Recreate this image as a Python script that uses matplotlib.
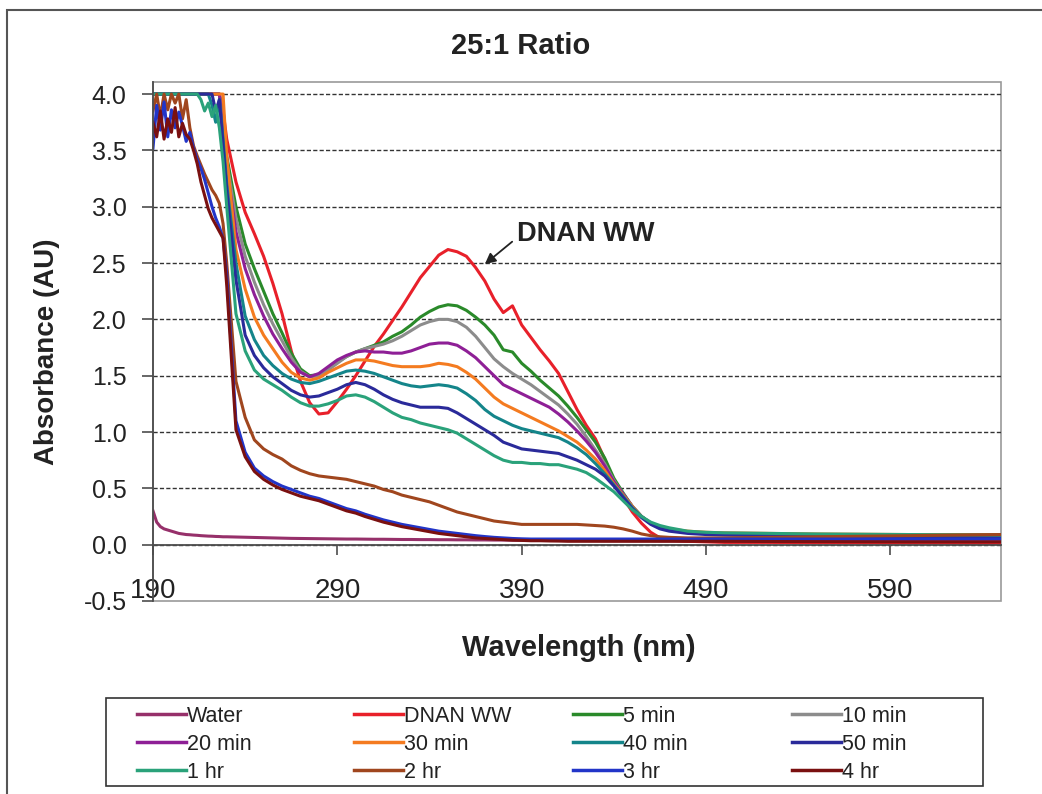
#** MÓDULOS NECESSÁRIOS **
import numpy as np
import matplotlib
matplotlib.use('Agg')
import matplotlib.pyplot as plt
from matplotlib.patches import Rectangle
from matplotlib.lines import Line2D

plt.rcParams['font.family'] = ['Liberation Sans', 'DejaVu Sans']

#** DADOS **
wavelength = [190, 192, 194, 196, 198, 200, 202, 204, 206, 208, 210, 212, 214, 216, 218, 220, 222, 224, 226, 228, 230,
              235, 240, 245, 250, 255, 260, 265, 270, 275, 280, 285, 290,
              295, 300, 305, 310, 315, 320, 325, 330, 335, 340, 345, 350,
              355, 360, 365, 370, 375, 380, 385, 390, 395, 400, 405, 410,
              415, 420, 425, 430, 435, 440, 445, 450, 455, 460, 465, 470,
              480, 490, 500, 525, 550, 600, 650]

water = [0.30, 0.20, 0.16, 0.14, 0.13, 0.12, 0.11, 0.10, 0.095, 0.09, 0.088, 0.085, 0.083, 0.08, 0.078, 0.076, 0.075, 0.073, 0.072, 0.07, 0.07,
         0.068, 0.066, 0.064, 0.062, 0.06, 0.058, 0.056, 0.055, 0.054, 0.053, 0.052, 0.051,
         0.05, 0.05, 0.049, 0.048, 0.048, 0.047, 0.046, 0.046, 0.045, 0.045, 0.044, 0.044,
         0.043, 0.043, 0.042, 0.042, 0.041, 0.041, 0.04, 0.04, 0.04, 0.039, 0.039, 0.038,
         0.038, 0.038, 0.037, 0.037, 0.036, 0.036, 0.036, 0.035, 0.035, 0.035, 0.034, 0.034,
         0.033, 0.033, 0.032, 0.031, 0.03, 0.028, 0.026]

dnan_ww = [4.0, 4.0, 4.0, 4.0, 4.0, 4.0, 4.0, 4.0, 4.0, 4.0, 4.0, 4.0, 4.0, 4.0, 4.0, 4.0, 4.0, 4.0, 4.0, 3.85, 3.6,
           3.22, 2.95, 2.76, 2.56, 2.32, 2.05, 1.72, 1.45, 1.26, 1.16, 1.17, 1.27,
           1.38, 1.50, 1.63, 1.76, 1.87, 1.99, 2.11, 2.24, 2.37, 2.47, 2.57, 2.62,
           2.60, 2.56, 2.46, 2.34, 2.18, 2.06, 2.12, 1.95, 1.84, 1.73, 1.63, 1.52,
           1.36, 1.20, 1.06, 0.94, 0.76, 0.55, 0.42, 0.29, 0.19, 0.11, 0.06, 0.04,
           0.03, 0.025, 0.02, 0.02, 0.018, 0.015, 0.012]

min_5 = [4.0, 4.0, 4.0, 4.0, 4.0, 4.0, 4.0, 4.0, 4.0, 4.0, 4.0, 4.0, 4.0, 4.0, 4.0, 4.0, 4.0, 4.0, 4.0, 3.75, 3.45,
         3.0, 2.67, 2.45, 2.25, 2.05, 1.88, 1.70, 1.56, 1.50, 1.51, 1.56, 1.62,
         1.67, 1.71, 1.74, 1.77, 1.80, 1.85, 1.89, 1.95, 2.02, 2.07, 2.11, 2.13,
         2.12, 2.08, 2.02, 1.95, 1.86, 1.73, 1.71, 1.61, 1.54, 1.46, 1.39, 1.32,
         1.23, 1.13, 1.02, 0.91, 0.77, 0.59, 0.46, 0.34, 0.25, 0.19, 0.15, 0.13,
         0.11, 0.10, 0.095, 0.09, 0.085, 0.078, 0.07]

min_10 = [4.0, 4.0, 4.0, 4.0, 4.0, 4.0, 4.0, 4.0, 4.0, 4.0, 4.0, 4.0, 4.0, 4.0, 4.0, 4.0, 4.0, 4.0, 4.0, 3.72, 3.4,
          2.9, 2.56, 2.33, 2.13, 1.96, 1.81, 1.66, 1.54, 1.49, 1.50, 1.55, 1.61,
          1.67, 1.71, 1.74, 1.76, 1.78, 1.81, 1.85, 1.90, 1.95, 1.98, 2.00, 2.00,
          1.98, 1.93, 1.85, 1.75, 1.65, 1.58, 1.52, 1.47, 1.42, 1.36, 1.30, 1.24,
          1.16, 1.07, 0.96, 0.84, 0.72, 0.57, 0.45, 0.34, 0.25, 0.19, 0.15, 0.13,
          0.11, 0.10, 0.095, 0.09, 0.085, 0.08, 0.075]

min_20 = [4.0, 4.0, 4.0, 4.0, 4.0, 4.0, 4.0, 4.0, 4.0, 4.0, 4.0, 4.0, 4.0, 4.0, 4.0, 4.0, 4.0, 4.0, 4.0, 3.68, 3.35,
          2.78, 2.45, 2.22, 2.03, 1.87, 1.74, 1.62, 1.53, 1.49, 1.52, 1.58, 1.64,
          1.68, 1.71, 1.72, 1.71, 1.71, 1.70, 1.70, 1.72, 1.75, 1.78, 1.79, 1.79,
          1.77, 1.72, 1.66, 1.58, 1.50, 1.42, 1.38, 1.34, 1.30, 1.26, 1.22, 1.16,
          1.09, 1.01, 0.92, 0.82, 0.70, 0.56, 0.45, 0.34, 0.25, 0.19, 0.15, 0.13,
          0.11, 0.10, 0.095, 0.09, 0.085, 0.08, 0.075]

min_30 = [4.0, 4.0, 4.0, 4.0, 4.0, 4.0, 4.0, 4.0, 4.0, 4.0, 4.0, 4.0, 4.0, 4.0, 4.0, 4.0, 4.0, 4.0, 4.0, 4.0, 3.45,
          2.62, 2.27, 2.02, 1.86, 1.74, 1.62, 1.53, 1.48, 1.46, 1.48, 1.53, 1.57,
          1.61, 1.64, 1.64, 1.63, 1.61, 1.59, 1.58, 1.58, 1.58, 1.59, 1.61, 1.60,
          1.58, 1.53, 1.47, 1.39, 1.31, 1.25, 1.21, 1.17, 1.13, 1.09, 1.05, 1.01,
          0.96, 0.91, 0.84, 0.76, 0.66, 0.54, 0.44, 0.34, 0.25, 0.19, 0.16, 0.14,
          0.12, 0.11, 0.105, 0.10, 0.095, 0.09, 0.09]

min_40 = [4.0, 4.0, 4.0, 4.0, 4.0, 4.0, 4.0, 4.0, 4.0, 4.0, 4.0, 4.0, 4.0, 4.0, 4.0, 4.0, 3.9, 3.75, 3.95, 3.6, 3.2,
          2.50, 2.03, 1.82, 1.68, 1.59, 1.52, 1.47, 1.44, 1.43, 1.45, 1.48, 1.51,
          1.54, 1.55, 1.54, 1.52, 1.49, 1.46, 1.43, 1.41, 1.40, 1.41, 1.42, 1.41,
          1.39, 1.34, 1.28, 1.20, 1.14, 1.10, 1.06, 1.03, 1.01, 0.99, 0.97, 0.95,
          0.91, 0.86, 0.80, 0.72, 0.63, 0.53, 0.43, 0.33, 0.25, 0.19, 0.15, 0.13,
          0.11, 0.10, 0.095, 0.09, 0.085, 0.08, 0.075]

min_50 = [4.0, 4.0, 4.0, 4.0, 4.0, 4.0, 4.0, 4.0, 4.0, 4.0, 4.0, 4.0, 4.0, 4.0, 4.0, 4.0, 4.0, 3.85, 3.95, 3.55, 3.15,
          2.35, 1.86, 1.68, 1.57, 1.49, 1.43, 1.37, 1.33, 1.31, 1.32, 1.35, 1.38,
          1.42, 1.44, 1.42, 1.38, 1.33, 1.29, 1.26, 1.24, 1.22, 1.22, 1.22, 1.21,
          1.17, 1.12, 1.07, 1.02, 0.97, 0.91, 0.88, 0.85, 0.84, 0.83, 0.82, 0.81,
          0.78, 0.75, 0.71, 0.67, 0.61, 0.52, 0.42, 0.32, 0.24, 0.18, 0.14, 0.12,
          0.10, 0.09, 0.085, 0.08, 0.075, 0.07, 0.065]

hr_1 = [4.0, 4.0, 4.0, 4.0, 4.0, 4.0, 4.0, 4.0, 4.0, 4.0, 4.0, 4.0, 4.0, 3.95, 3.85, 3.92, 3.8, 3.9, 3.7, 3.4, 3.0,
        2.05, 1.72, 1.55, 1.47, 1.42, 1.37, 1.31, 1.26, 1.23, 1.23, 1.25, 1.28,
        1.32, 1.33, 1.31, 1.27, 1.22, 1.17, 1.13, 1.11, 1.08, 1.06, 1.04, 1.02,
        0.99, 0.94, 0.89, 0.84, 0.79, 0.75, 0.73, 0.73, 0.72, 0.72, 0.71, 0.71,
        0.69, 0.67, 0.64, 0.59, 0.53, 0.47, 0.39, 0.31, 0.25, 0.20, 0.17, 0.15,
        0.12, 0.11, 0.105, 0.10, 0.095, 0.09, 0.085]

hr_2 = [3.85, 4.0, 3.80, 4.0, 3.86, 4.0, 3.92, 4.0, 3.78, 3.95, 3.70, 3.54, 3.45, 3.37, 3.29, 3.22, 3.15, 3.10, 3.03, 2.85, 2.50,
        1.45, 1.13, 0.93, 0.85, 0.80, 0.76, 0.70, 0.66, 0.63, 0.61, 0.60, 0.59,
        0.58, 0.56, 0.54, 0.52, 0.49, 0.47, 0.44, 0.42, 0.40, 0.38, 0.35, 0.32,
        0.29, 0.27, 0.25, 0.23, 0.21, 0.20, 0.19, 0.18, 0.18, 0.18, 0.18, 0.18,
        0.18, 0.18, 0.175, 0.17, 0.165, 0.155, 0.14, 0.12, 0.095, 0.08, 0.07, 0.065,
        0.06, 0.06, 0.06, 0.065, 0.07, 0.08, 0.09]

hr_3 = [3.52, 3.90, 3.68, 3.93, 3.62, 3.86, 3.70, 3.84, 3.72, 3.58, 3.66, 3.52, 3.42, 3.34, 3.24, 3.12, 3.00, 2.90, 2.82, 2.72, 2.40,
        1.10, 0.82, 0.68, 0.61, 0.56, 0.52, 0.49, 0.46, 0.43, 0.41, 0.38, 0.35,
        0.32, 0.30, 0.27, 0.245, 0.22, 0.20, 0.18, 0.165, 0.15, 0.135, 0.12, 0.11,
        0.10, 0.09, 0.08, 0.072, 0.065, 0.06, 0.055, 0.052, 0.05, 0.05, 0.05, 0.05,
        0.05, 0.05, 0.05, 0.05, 0.05, 0.05, 0.05, 0.05, 0.05, 0.05, 0.05, 0.05,
        0.05, 0.05, 0.05, 0.05, 0.05, 0.05, 0.05]

hr_4 = [3.75, 3.62, 3.85, 3.60, 3.78, 3.66, 3.88, 3.62, 3.74, 3.64, 3.60, 3.50, 3.38, 3.22, 3.10, 2.98, 2.90, 2.84, 2.78, 2.72, 2.30,
        1.02, 0.78, 0.65, 0.58, 0.53, 0.49, 0.46, 0.43, 0.41, 0.39, 0.36, 0.33,
        0.30, 0.28, 0.25, 0.225, 0.20, 0.18, 0.16, 0.145, 0.13, 0.115, 0.10, 0.09,
        0.08, 0.07, 0.06, 0.055, 0.05, 0.045, 0.04, 0.038, 0.035, 0.035, 0.033, 0.032,
        0.03, 0.03, 0.03, 0.03, 0.03, 0.03, 0.03, 0.03, 0.03, 0.03, 0.03, 0.03,
        0.03, 0.03, 0.03, 0.028, 0.027, 0.025, 0.025]

series = [water, dnan_ww, min_5, min_10, min_20, min_30, min_40, min_50, hr_1, hr_2, hr_3, hr_4]
labels = ['Water', 'DNAN WW', '5 min', '10 min', '20 min', '30 min', '40 min', '50 min',
          '1 hr', '2 hr', '3 hr', '4 hr']
colors = ['#96306a', '#e8202a', '#2a8a2a', '#8c8c8c', '#8e1f96', '#f47b20', '#14858a', '#2a2a9a',
          '#2aa27a', '#a0461e', '#2235c8', '#7a1010']

x_ticks = [190, 290, 390, 490, 590]
y_ticks = [-0.5, 0.0, 0.5, 1.0, 1.5, 2.0, 2.5, 3.0, 3.5, 4.0]

#** FIGURA **
W, H = 1042, 794
fig = plt.figure(figsize=(W / 100, H / 100), dpi=100)
fig.patch.set_facecolor('white')

# moldura externa (cortada à direita e embaixo)
fig.add_artist(Rectangle((7 / W, -0.1), 1.2, 1 - 10 / H + 0.1, transform=fig.transFigure,
                         fill=False, ec='#555555', lw=1.5))

ax = fig.add_axes([153 / W, 1 - 601 / H, (1001 - 153) / W, (601 - 82) / H])
ax.set_xlim(190, 650)
ax.set_ylim(-0.5, 4.107)

for y, lab, c in zip(series, labels, colors):
    ax.plot(wavelength, y, color=c, lw=2.2, label=lab, solid_joinstyle='round')

# eixos no estilo Excel
for s in ['top', 'right']:
    ax.spines[s].set_visible(False)
ax.spines['bottom'].set_position(('data', 0))
ax.spines['bottom'].set_color('#4d4d4d')
ax.spines['bottom'].set_linewidth(1.3)
ax.spines['left'].set_color('#4d4d4d')
ax.spines['left'].set_linewidth(1.3)
ax.add_patch(Rectangle((0, 0), 1, 1, transform=ax.transAxes, fill=False,
                       ec='#9a9a9a', lw=1.2, clip_on=False, zorder=0))

ax.set_xticks(x_ticks)
ax.set_xticklabels([str(v) for v in x_ticks])
ax.set_yticks(y_ticks)
ax.set_yticklabels(['%.1f' % v for v in y_ticks])
ax.tick_params(axis='x', direction='out', length=7, width=1.2, color='#4d4d4d', pad=17, labelsize=20, labelcolor='#222222')
ax.tick_params(axis='y', direction='out', length=8, width=1.2, color='#4d4d4d', pad=11, labelsize=18, labelcolor='#222222')

ax.yaxis.grid(True, linestyle=(0, (3, 1.6)), color='#333333', lw=1.0)
ax.yaxis.get_gridlines()[0].set_visible(False)
ax.set_axisbelow(True)

# textos
fig.text(0.5, 1 - 46 / H, '25:1 Ratio', ha='center', va='center', fontsize=21, fontweight='bold', color='#222222')
fig.text(47 / W, 1 - 352 / H, 'Absorbance (AU)', ha='center', va='center', rotation=90,
         fontsize=20, fontweight='bold', color='#222222')
fig.text(579 / W, 1 - 648 / H, 'Wavelength (nm)', ha='center', va='center', fontsize=21,
         fontweight='bold', color='#222222')

ax.annotate('DNAN WW', xy=(370, 2.49), xytext=(387.5, 2.76), ha='left', va='center',
            fontsize=19.5, fontweight='bold', color='#222222',
            arrowprops=dict(arrowstyle='-|>', color='#222222', lw=1.3, mutation_scale=16,
                            shrinkA=2, shrinkB=0, relpos=(0, 0.35)))

#** LEGENDA (4 colunas, ordem por linha) **
handles = [Line2D([0], [0], color=c, lw=2.5) for c in colors]
col_x = [126, 343, 562, 781]
for k in range(4):
    idx = [k, k + 4, k + 8]
    fig.legend([handles[i] for i in idx], [labels[i] for i in idx], loc='upper left',
               bbox_to_anchor=(col_x[k] / W, 1 - 695 / H), frameon=False, borderpad=0,
               handlelength=2.3, handletextpad=0.05, labelspacing=0.32, fontsize=15.5,
               labelcolor='#222222')
fig.add_artist(Rectangle((106 / W, 1 - 786 / H), (983 - 106) / W, (786 - 698) / H,
                         transform=fig.transFigure, fill=False, ec='#333333', lw=1.2))

fig.savefig('out.png', dpi=100)
